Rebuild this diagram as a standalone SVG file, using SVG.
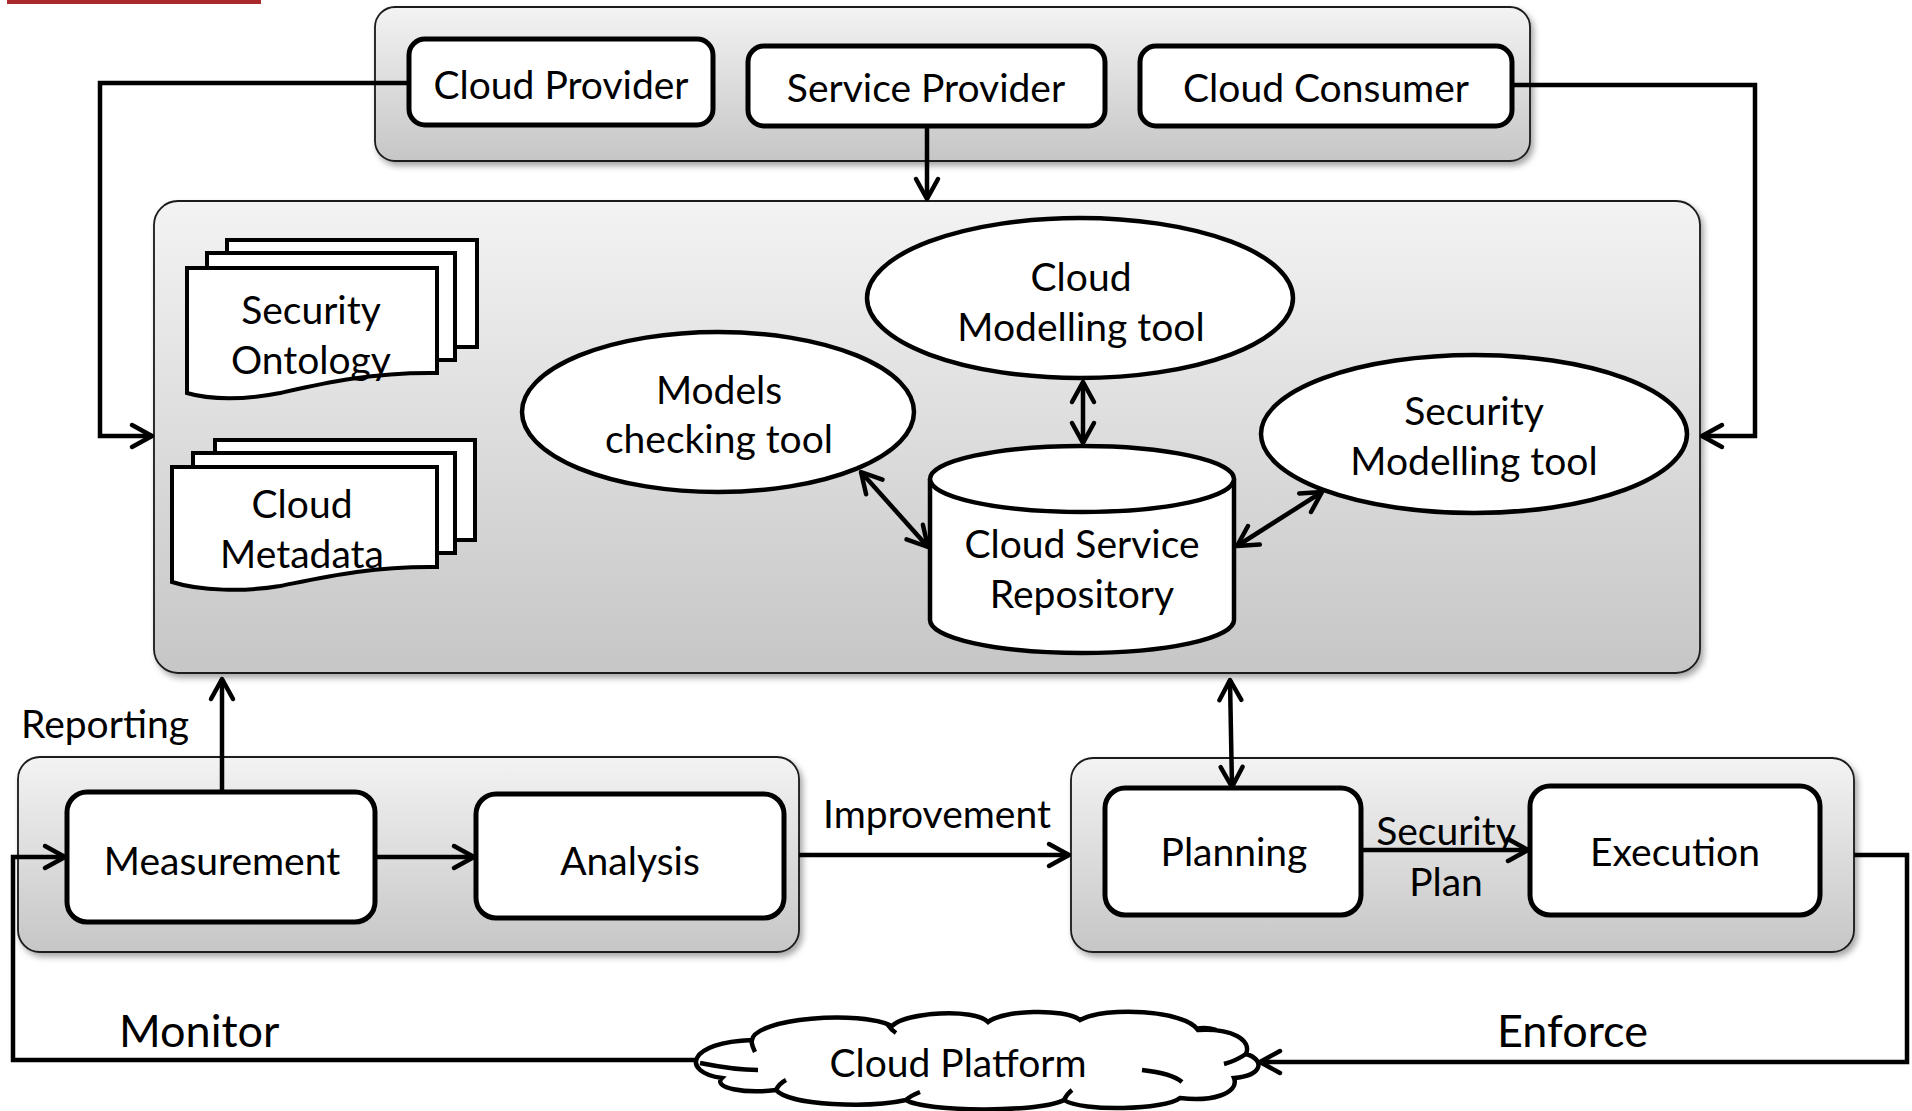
<svg xmlns="http://www.w3.org/2000/svg" width="1912" height="1111" viewBox="0 0 1912 1111">
<defs>
<linearGradient id="grad" x1="0" y1="0" x2="0" y2="1">
<stop offset="0" stop-color="#f3f3f3"/>
<stop offset="1" stop-color="#c6c6c6"/>
</linearGradient>
<filter id="shadow" x="-5%" y="-5%" width="110%" height="115%">
<feDropShadow dx="3" dy="4" stdDeviation="3" flood-color="#000" flood-opacity="0.35"/>
</filter>
<marker id="arr" markerUnits="userSpaceOnUse" markerWidth="30" markerHeight="30" viewBox="-24 -15 28 30" refX="0" refY="0" orient="auto-start-reverse">
<path d="M-20,-11 L0,0 L-20,11" fill="none" stroke="#000" stroke-width="4.5" stroke-linejoin="round" stroke-linecap="round"/>
</marker>
<style>
.cont{fill:url(#grad);stroke:#1a1a1a;stroke-width:1.8;filter:url(#shadow)}
.box{fill:#fff;stroke:#000;stroke-width:5}
.shape{fill:#fff;stroke:#000;stroke-width:4.5}
.page{fill:#fff;stroke:#000;stroke-width:4}
.conn{fill:none;stroke:#000;stroke-width:4.5}
.t{font-family:Lato,"Open Sans","Liberation Sans",sans-serif;font-size:39px;fill:#000;text-anchor:middle}
.ts{font-family:Lato,"Open Sans","Liberation Sans",sans-serif;font-size:39px;fill:#000}
.tb{font-family:Lato,"Open Sans","Liberation Sans",sans-serif;font-size:45px;fill:#000}
</style>
</defs>
<rect x="0" y="0" width="1912" height="1111" fill="#fff"/>
<rect x="7" y="0" width="254" height="4" fill="#a8282c"/>

<g id="containers">
<rect id="top-container" class="cont" x="375" y="7" width="1155" height="154" rx="20"/>
<rect id="main-container" class="cont" x="154" y="201" width="1546" height="472" rx="24"/>
<rect id="monitor-container" class="cont" x="18" y="757" width="781" height="195" rx="22"/>
<rect id="enforce-container" class="cont" x="1071" y="758" width="783" height="194" rx="22"/>
</g>

<g id="connectors">
<polyline class="conn" points="409,83 100,83 100,436 152,436" marker-end="url(#arr)"/>
<polyline class="conn" points="1512,85 1755,85 1755,436 1702,436" marker-end="url(#arr)"/>
<line class="conn" x1="927" y1="126" x2="927" y2="199" marker-end="url(#arr)"/>
<line class="conn" x1="1083" y1="382" x2="1083" y2="443" marker-start="url(#arr)" marker-end="url(#arr)"/>
<line class="conn" x1="861" y1="472" x2="928" y2="547" marker-start="url(#arr)" marker-end="url(#arr)"/>
<line class="conn" x1="1237" y1="546" x2="1322" y2="492" marker-start="url(#arr)" marker-end="url(#arr)"/>
<line class="conn" x1="222" y1="790" x2="222" y2="679" marker-end="url(#arr)"/>
<line class="conn" x1="1230" y1="680" x2="1232" y2="787" marker-start="url(#arr)" marker-end="url(#arr)"/>
<line class="conn" x1="375" y1="857" x2="474" y2="857" marker-end="url(#arr)"/>
<line class="conn" x1="799" y1="855" x2="1069" y2="855" marker-end="url(#arr)"/>
<line class="conn" x1="1361" y1="850" x2="1528" y2="850" marker-end="url(#arr)"/>
<polyline class="conn" points="697,1060 13,1060 13,857 65,857" marker-end="url(#arr)"/>
<polyline class="conn" points="1854,855 1907,855 1907,1062 1260,1062" marker-end="url(#arr)"/>
</g>

<g id="cloud-provider">
<rect class="box" x="409" y="39" width="304" height="86" rx="16"/>
<text class="t" x="561" y="99">Cloud Provider</text>
</g>
<g id="service-provider">
<rect class="box" x="748" y="46" width="357" height="80" rx="16"/>
<text class="t" x="926" y="102">Service Provider</text>
</g>
<g id="cloud-consumer">
<rect class="box" x="1140" y="46" width="372" height="80" rx="16"/>
<text class="t" x="1326" y="102">Cloud Consumer</text>
</g>

<g id="security-ontology">
<rect class="page" x="227" y="240" width="250" height="107"/>
<rect class="page" x="207" y="253" width="248" height="107"/>
<path class="page" d="M187,268 H437 V373 C370,372 320,384 280,393 C245,400 210,400 187,393 Z"/>
<text class="t" x="311" y="324">Security</text>
<text class="t" x="311" y="374">Ontology</text>
</g>
<g id="cloud-metadata">
<rect class="page" x="215" y="440" width="260" height="100"/>
<rect class="page" x="193" y="453" width="262" height="100"/>
<path class="page" d="M172,467 H437 V567 C370,566 320,578 280,586 C245,592 200,591 172,582 Z"/>
<text class="t" x="302" y="518">Cloud</text>
<text class="t" x="302" y="568">Metadata</text>
</g>

<g id="models-checking-tool">
<ellipse class="shape" cx="718" cy="412" rx="196" ry="80"/>
<text class="t" x="719" y="404">Models</text>
<text class="t" x="719" y="453">checking tool</text>
</g>
<g id="cloud-modelling-tool">
<ellipse class="shape" cx="1080" cy="298" rx="213" ry="80"/>
<text class="t" x="1081" y="291">Cloud</text>
<text class="t" x="1081" y="341">Modelling tool</text>
</g>
<g id="security-modelling-tool">
<ellipse class="shape" cx="1474" cy="434" rx="213" ry="79"/>
<text class="t" x="1474" y="425">Security</text>
<text class="t" x="1474" y="475">Modelling tool</text>
</g>
<g id="cloud-service-repository">
<path class="shape" d="M930,479 V620 A152,33 0 0 0 1234,620 V479"/>
<ellipse class="shape" cx="1082" cy="479" rx="152" ry="33"/>
<text class="t" x="1082" y="558">Cloud Service</text>
<text class="t" x="1082" y="608">Repository</text>
</g>

<g id="measurement">
<rect class="box" x="67" y="792" width="308" height="130" rx="20"/>
<text class="t" x="222" y="875">Measurement</text>
</g>
<g id="analysis">
<rect class="box" x="476" y="794" width="308" height="124" rx="20"/>
<text class="t" x="630" y="875">Analysis</text>
</g>
<g id="planning">
<rect class="box" x="1105" y="788" width="256" height="127" rx="20"/>
<text class="t" x="1234" y="866">Planning</text>
</g>
<g id="execution">
<rect class="box" x="1530" y="786" width="290" height="129" rx="20"/>
<text class="t" x="1675" y="866">Execution</text>
</g>

<g id="cloud-platform">
<path class="shape" d="M722,1078 C680,1072 688,1042 752,1040 C755,1018 860,1010 892,1026 C905,1012 975,1008 988,1022 C1002,1010 1065,1008 1080,1020 C1105,1006 1185,1010 1198,1030 C1232,1028 1252,1040 1246,1054 C1266,1060 1262,1076 1234,1078 C1240,1094 1210,1102 1180,1098 C1165,1110 1082,1112 1064,1100 C1040,1113 925,1112 906,1100 C870,1108 790,1106 776,1090 C745,1094 712,1088 722,1078 Z"/>
<path fill="none" stroke="#000" stroke-width="4.5" d="M700,1063 C720,1067 740,1070 758,1070 M751,1040 C752,1045 753,1048 755,1052 M888,1025 C890,1028 893,1031 896,1033 M1196,1029 C1203,1027 1210,1028 1216,1030 M1224,1064 C1232,1062 1240,1058 1246,1054 M1142,1070 C1160,1072 1175,1076 1182,1082 M776,1090 C778,1086 782,1082 786,1080 M906,1100 C910,1096 915,1094 920,1092 M1064,1100 C1066,1096 1068,1093 1072,1090"/>
<text class="t" x="958" y="1077">Cloud Platform</text>
</g>

<g id="labels">
<text class="ts" x="21" y="738">Reporting</text>
<text class="t" x="937" y="828">Improvement</text>
<text class="t" x="1446" y="845">Security</text>
<text class="t" x="1446" y="896">Plan</text>
<text class="tb" x="119" y="1047">Monitor</text>
<text class="tb" x="1497" y="1047">Enforce</text>
</g>
</svg>
